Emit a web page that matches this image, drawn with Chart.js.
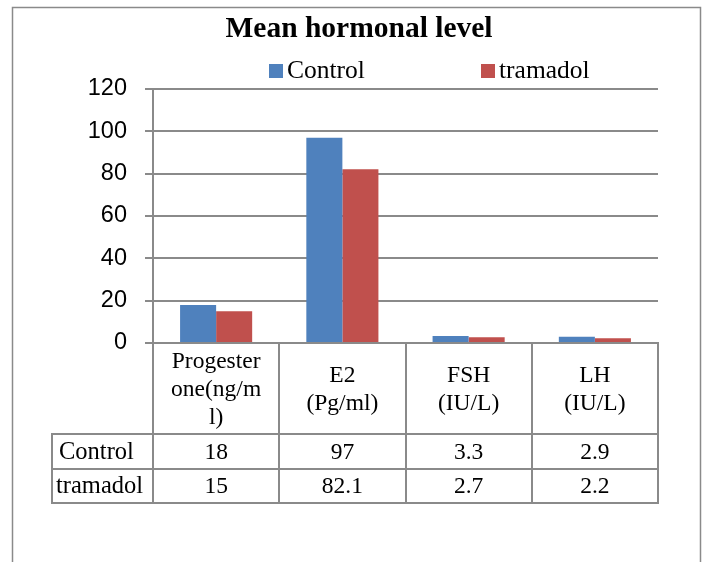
<!DOCTYPE html>
<html><head><meta charset="utf-8">
<script src="https://cdn.jsdelivr.net/npm/chart.js@4"></script>
<style>html,body{margin:0;padding:0;background:#fff}#wrap{width:709px;height:562px;position:relative}</style>
</head><body><div id="wrap"><canvas id="c" width="709" height="562"></canvas></div>
<script>
const categories = [["Progester","one(ng/m","l)"],["E2","(Pg/ml)"],["FSH","(IU/L)"],["LH","(IU/L)"]];
const seriesNames = ["Control","tramadol"];
const controlValues = [18, 97, 3.3, 2.9];
const tramadolValues = [15, 82.1, 2.7, 2.2];
const controlTableText = ["18","97","3.3","2.9"];
const tramadolTableText = ["15","82.1","2.7","2.2"];
const yMin = 0, yMax = 120, yStep = 20;
const chartTitle = "Mean hormonal level";
const colors = ["#4F81BD", "#C0504D"];

const GRID = "#8a8a8a";
const SERIF = "'Liberation Serif', 'Times New Roman', serif";
const SANS = "'Liberation Sans', Arial, sans-serif";

const decor = {
  id: 'decor',
  afterDraw(chart) {
    const ctx = chart.ctx;
    const x = chart.scales.x;
    const area = chart.chartArea;
    ctx.save();
    // outer frame
    ctx.strokeStyle = GRID; ctx.lineWidth = 1.5;
    ctx.strokeRect(12.5, 7.5, 688, 600);
    // title
    ctx.fillStyle = "#000";
    ctx.font = "bold 29.5px " + SERIF;
    ctx.textAlign = "center"; ctx.textBaseline = "middle";
    ctx.fillText(chartTitle, 359, 29);
    // legend
    ctx.font = "25.5px " + SERIF;
    ctx.textAlign = "left";
    const legendX = [269, 481];
    seriesNames.forEach((n, i) => {
      ctx.fillStyle = colors[i];
      ctx.fillRect(legendX[i], 64, 14, 14);
      ctx.fillStyle = "#000";
      ctx.fillText(n, legendX[i] + 18, 71);
    });
    // data table
    const n = categories.length;
    const half = (x.getPixelForValue(1) - x.getPixelForValue(0)) / 2;
    const bounds = [];
    for (let i = 0; i < n; i++) bounds.push(x.getPixelForValue(i) - half);
    bounds.push(x.getPixelForValue(n - 1) + half);
    const top = area.bottom;
    const headerBottom = top + 91;
    const row1 = headerBottom + 35;
    const row2 = row1 + 34;
    const leftX = 52;
    ctx.strokeStyle = GRID; ctx.lineWidth = 2;
    ctx.beginPath();
    bounds.forEach(b => { ctx.moveTo(Math.round(b), top); ctx.lineTo(Math.round(b), row2); });
    ctx.moveTo(leftX, headerBottom); ctx.lineTo(leftX, row2);
    [headerBottom, row1, row2].forEach(yy => { ctx.moveTo(leftX - 1, yy); ctx.lineTo(bounds[n] + 1, yy); });
    ctx.stroke();
    ctx.fillStyle = "#000";
    ctx.font = "23.5px " + SERIF;
    ctx.textAlign = "center"; ctx.textBaseline = "middle";
    const lh = 28;
    categories.forEach((lines, i) => {
      const cx = x.getPixelForValue(i);
      const cy = (top + headerBottom) / 2 + 1;
      lines.forEach((t, k) => {
        ctx.fillText(t, cx, cy + (k - (lines.length - 1) / 2) * lh);
      });
    });
    const r1c = (headerBottom + row1) / 2 + 1, r2c = (row1 + row2) / 2 + 1;
    ctx.textAlign = "left";
    ctx.font = "24.5px " + SERIF;
    ctx.fillText(seriesNames[0], leftX + 7, r1c);
    ctx.fillText(seriesNames[1], leftX + 4, r2c);
    ctx.font = "23.5px " + SERIF;
    ctx.textAlign = "center";
    categories.forEach((c, i) => {
      const cx = x.getPixelForValue(i);
      ctx.fillText(controlTableText[i], cx, r1c);
      ctx.fillText(tramadolTableText[i], cx, r2c);
    });
    ctx.restore();
  }
};

new Chart(document.getElementById('c'), {
  type: 'bar',
  data: {
    labels: categories.map(l => l.join(' ')),
    datasets: [
      { label: seriesNames[0], data: controlValues, backgroundColor: colors[0] },
      { label: seriesNames[1], data: tramadolValues, backgroundColor: colors[1] }
    ]
  },
  options: {
    responsive: false, animation: false, devicePixelRatio: 1,
    layout: { padding: { top: 89, right: 51, left: 0, bottom: 0 } },
    datasets: { bar: { categoryPercentage: 0.571, barPercentage: 1.0 } },
    plugins: { legend: { display: false }, title: { display: false }, tooltip: { enabled: false } },
    scales: {
      x: {
        grid: { display: false },
        border: { display: true, color: GRID, width: 2 },
        ticks: { display: false },
        afterFit(s) { s.height = 219; }
      },
      y: {
        min: yMin, max: yMax,
        ticks: { stepSize: yStep, color: "#000", font: { family: SANS, size: 23.5 }, padding: 18 },
        grid: { color: GRID, lineWidth: 2, tickLength: 8 },
        border: { display: true, color: GRID, width: 2 },
        afterFit(s) { s.width = 153; }
      }
    }
  },
  plugins: [decor]
});
</script>
</body></html>
